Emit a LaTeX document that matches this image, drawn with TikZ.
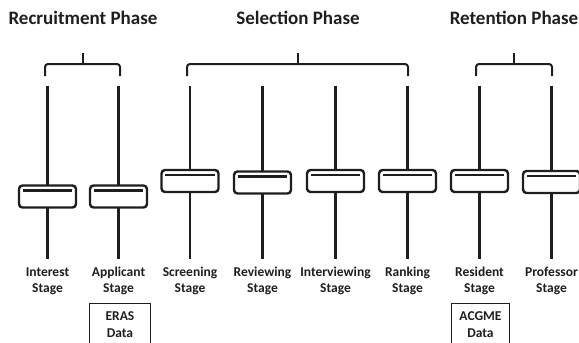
\documentclass[tikz,border=0pt]{standalone}
\usepackage{fontspec}
\setmainfont{Carlito}
\definecolor{ink}{HTML}{1E1E1E}
\definecolor{txt}{HTML}{1E1E1E}
\tikzset{
  track/.style={draw=ink, line width=2.6pt},
  slider/.style={draw=ink, fill=white, line width=2.4pt, rounded corners=3.5pt, minimum width=57pt, minimum height=22pt, inner sep=0pt},
  knob/.style={draw=ink, line width=2.6pt},
  brace/.style={draw=ink, line width=2pt, rounded corners=3pt},
  phase/.style={font=\bfseries\fontsize{19}{22}\selectfont, text=txt, inner sep=0pt},
  stagelbl/.style={font=\bfseries\fontsize{13.5}{16}\selectfont, text=txt, align=center, inner sep=0pt},
  databox/.style={draw=ink, line width=0.8pt, minimum width=61pt, minimum height=42pt, inner sep=0pt, anchor=north, font=\bfseries\fontsize{13.5}{17}\selectfont, text=txt, align=center}
}
\begin{document}
\begin{tikzpicture}[x=1pt,y=-1pt]
\useasboundingbox (0,0) rectangle (579,343);
% phase titles
\node[phase] (pr) at (83,18) {Recruitment Phase};
\node[phase] (ps) at (298,18) {Selection Phase};
\node[phase] (pt) at (514,18) {Retention Phase};
% braces
\coordinate (b1a) at (45,76); \coordinate (b1b) at (120,76); \coordinate (b1m) at (82.5,64); \coordinate (b1t) at (82.5,53);
\coordinate (b2a) at (187,76); \coordinate (b2b) at (408,76); \coordinate (b2m) at (297.5,64); \coordinate (b2t) at (297.5,53);
\coordinate (b3a) at (476,76); \coordinate (b3b) at (552,76); \coordinate (b3m) at (514,64); \coordinate (b3t) at (514,53);
\foreach \b in {b1,b2,b3}{
  \draw[brace] (\b a) -- (\b a |- \b m) -- (\b b |- \b m) -- (\b b);
  \draw[draw=ink, line width=2pt] (\b m) -- (\b t);
}
% tracks, sliders, labels
\foreach \n/\x/\y/\lbl in {
  interest/47.5/196.5/{Interest\\Stage},
  applicant/118.5/196.5/{Applicant\\Stage},
  screening/190/181/{Screening\\Stage},
  reviewing/262.5/182.5/{Reviewing\\Stage},
  interviewing/335.5/181/{Interviewing\\Stage},
  ranking/407.5/181/{Ranking\\Stage},
  resident/479.5/181/{Resident\\Stage},
  professor/551.5/182/{Professor\\Stage}}{
  \coordinate (\n-top) at (\x,86);
  \coordinate (\n-bot) at (\x,259);
  \draw[track] (\n-top) -- (\n-bot);
  \node[slider] (\n-box) at (\x,\y) {};
  \draw[knob] ([xshift=5pt,yshift=-6pt]\n-box.north west) -- ([xshift=-5pt,yshift=-6pt]\n-box.north east);
  \node[stagelbl] (\n-lbl) at (\x,281) {\lbl};
}
% data boxes
\node[databox] (eras) at (120,303) {ERAS\\Data};
\node[databox, minimum width=58pt] (acgme) at (480.5,303) {ACGME\\Data};
\end{tikzpicture}
\end{document}
